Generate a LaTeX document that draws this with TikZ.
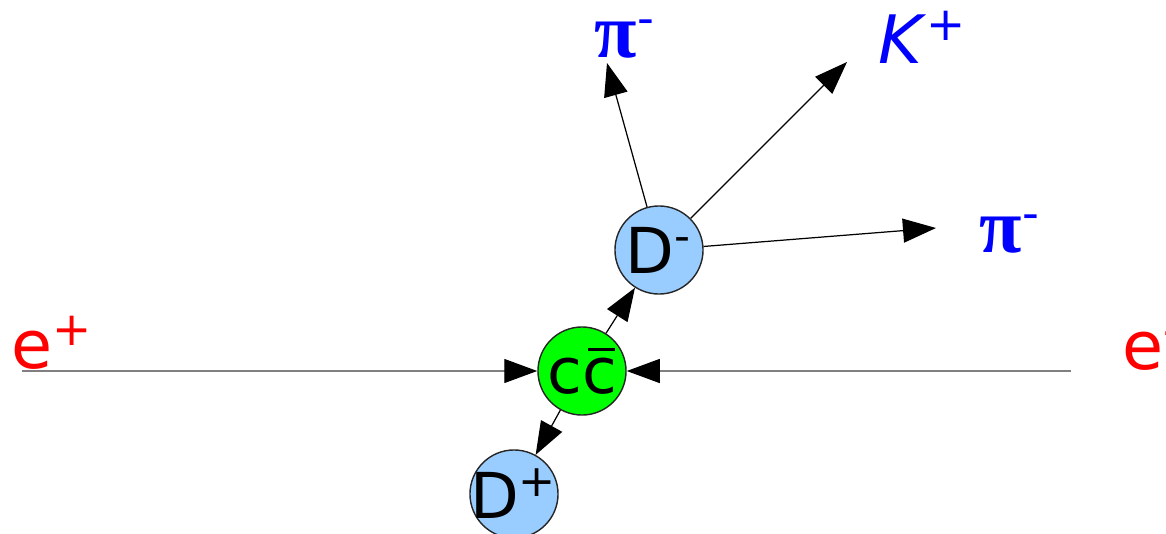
\documentclass[tikz,border=0pt]{standalone}
\usepackage{fontspec}
\setmainfont{DejaVu Sans}
\newfontfamily\greekfont{Liberation Serif}
\usetikzlibrary{arrows.meta}

\definecolor{mesonblue}{HTML}{99CCFF}
\definecolor{ccgreen}{HTML}{00FF00}

\begin{document}
\begin{tikzpicture}[x=0.01cm, y=-0.01cm,
      ball/.style={circle, draw=black!85, line width=0.4pt, minimum size=0.88cm, inner sep=0pt, font=\fontsize{18}{18}\selectfont},
      part/.style={anchor=base west, inner sep=0pt, font=\fontsize{19}{19}\selectfont},
      arr/.style={-{Triangle[length=0.33cm, width=0.24cm, color=black]}, line width=0.35pt}]
      \useasboundingbox (0,0) rectangle (1166,533);
      % collision point and the two mesons
      \node[ball, fill=ccgreen] (cc) at (582,371)
        {\makebox[0pt]{c\makebox[0pt][l]{\hspace{0.1em}\rule[0.67em]{0.42em}{0.05em}}c}};
      \node[ball, fill=mesonblue] (dm) at (659,250) {\makebox[0pt]{D\textsuperscript{-}}};
      \node[ball, fill=mesonblue] (dp) at (514,494) {\makebox[0pt]{D\textsuperscript{+}}};
      % beams
      \node[part, text=red] (eplus)  at (11,368)   {e\textsuperscript{+}};
      \node[part, text=red] (eminus) at (1122,369) {e\textsuperscript{-}};
      \coordinate (beamL) at (22,371);
      \coordinate (beamR) at (1071,371);
      % decay products
      \node[part, text=blue] (pitop)   at (594,57)  {{\greekfont\fontsize{22}{22}\selectfont\bfseries π}\textsuperscript{-}};
      \node[part, text=blue] (kplus)   at (878,63)  {\textit{K}\textsuperscript{+}};
      \node[part, text=blue] (piright) at (979,252) {{\greekfont\fontsize{22}{22}\selectfont\bfseries π}\textsuperscript{-}};
      \coordinate (pitopEnd)   at (607,63);
      \coordinate (kplusEnd)   at (847,62);
      \coordinate (pirightEnd) at (936,228);
      \draw[arr, draw=gray] (beamL) -- (cc);
      \draw[arr, draw=gray] (beamR) -- (cc);
      \draw[arr] (cc) -- (dm);
      \draw[arr] (cc) -- (dp);
      \draw[arr] (dm) -- (pitopEnd);
      \draw[arr] (dm) -- (kplusEnd);
      \draw[arr] (dm) -- (pirightEnd);
    \end{tikzpicture}
\end{document}
